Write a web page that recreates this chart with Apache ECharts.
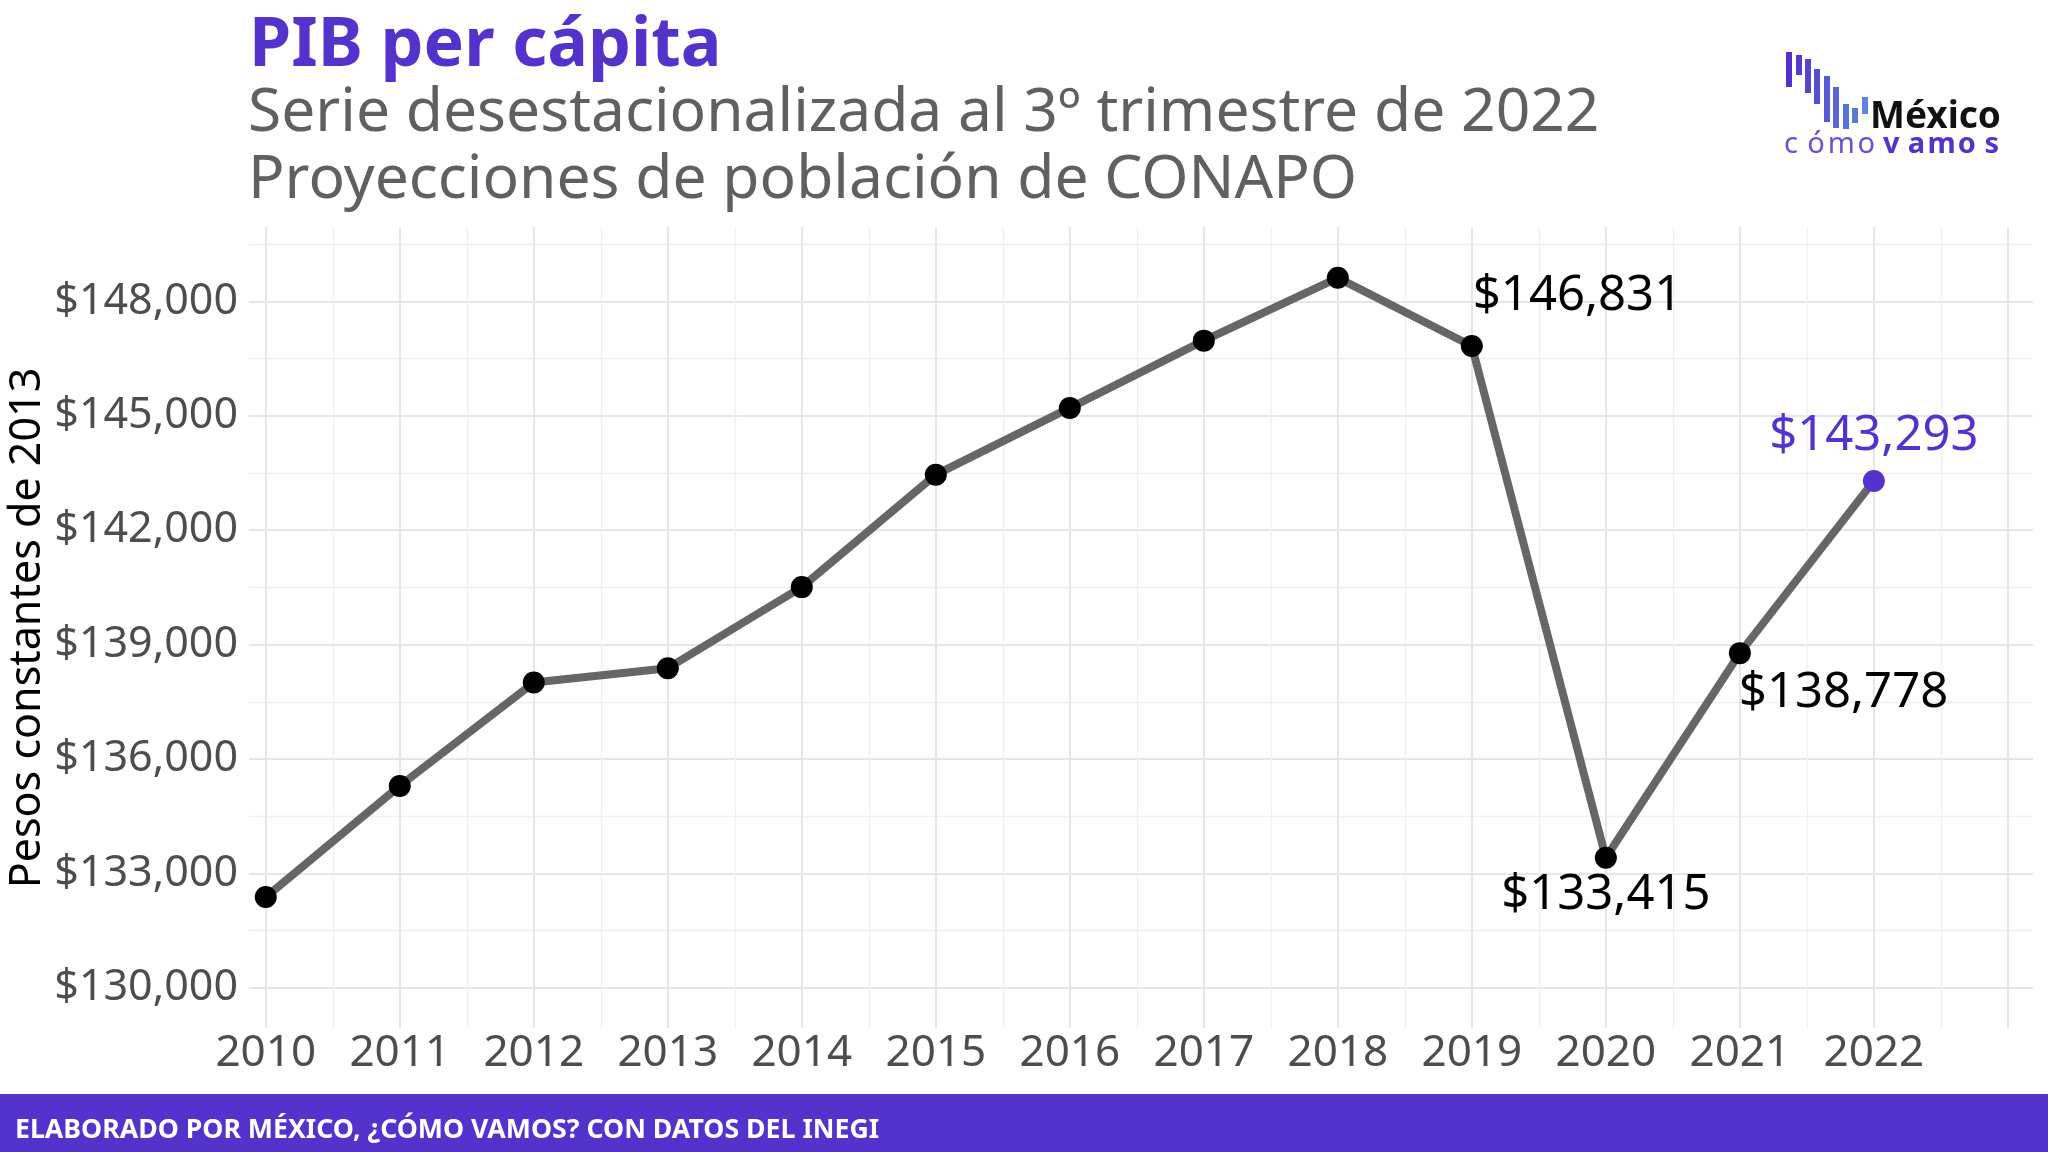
<!DOCTYPE html>
<html><head><meta charset="utf-8">
<script src="https://cdn.jsdelivr.net/npm/echarts@6/dist/echarts.min.js"></script>
<style>html,body{margin:0;padding:0;background:#fff}#c{width:2048px;height:1152px}</style>
</head><body><div id="c"></div>
<script>
// ---- data ----
const years = [2010, 2011, 2012, 2013, 2014, 2015, 2016, 2017, 2018, 2019, 2020, 2021, 2022];
const pibPerCapita = [132383, 135297, 138006, 138383, 140509, 143457, 145206, 146971, 148617, 146831, 133415, 138778, 143293];
const labeledYears = [2019, 2020, 2021, 2022];
const highlightYear = 2022;
const xTickYears = [2010, 2011, 2012, 2013, 2014, 2015, 2016, 2017, 2018, 2019, 2020, 2021, 2022];
const xGridYears = [2010, 2011, 2012, 2013, 2014, 2015, 2016, 2017, 2018, 2019, 2020, 2021, 2022, 2023];
const yTickValues = [130000, 133000, 136000, 139000, 142000, 145000, 148000];
const yMinorValues = [131500, 134500, 137500, 140500, 143500, 146500, 149500];
const titleText = 'PIB per cápita';
const subtitleLines = ['Serie desestacionalizada al 3º trimestre de 2022', 'Proyecciones de población de CONAPO'];
const yAxisTitle = 'Pesos constantes de 2013';
const footerText = 'ELABORADO POR MÉXICO, ¿CÓMO VAMOS? CON DATOS DEL INEGI';

// ---- style ----
const PURPLE = '#5433cc';
const MAJOR = '#e6e6e6', MINOR = '#f0f0f0';
const FONT = 'Noto Sans';
const X_MIN = 2009.875, X_MAX = 2023.1875, X_STEP = 0.0625;
const Y_MIN = 128950, Y_MAX = 149950, Y_STEP = 50;

function near(a, b) { return Math.abs(a - b) < 1e-6; }
function colorCycle(min, step, period, testFn) {
  const arr = [];
  for (let i = 0; i < period; i++) arr.push(testFn(min + step * i) ? 'X' : 'transparent');
  return arr;
}
// x: period of 1 year = 16 steps
const xMajorColors = colorCycle(X_MIN, X_STEP, 16, v => xGridYears.some(y => near(v, y))).map(c => c === 'X' ? MAJOR : c);
const xMinorColors = colorCycle(X_MIN, X_STEP, 16, v => xGridYears.some(y => near(v, y + 0.5))).map(c => c === 'X' ? MINOR : c);
// y: period of 3000 = 60 steps
const yMajorColors = colorCycle(Y_MIN, Y_STEP, 60, v => (((v - yTickValues[0]) % 3000) + 3000) % 3000 === 0).map(c => c === 'X' ? MAJOR : c);
const yMinorColors = colorCycle(Y_MIN, Y_STEP, 60, v => (((v - yMinorValues[0]) % 3000) + 3000) % 3000 === 0).map(c => c === 'X' ? MINOR : c);

const fmtMoney = v => '$' + Math.round(v).toLocaleString('en-US');

const labelPlacement = {
  2019: { align: 'left', offset: [1, -50] },
  2020: { align: 'center', offset: [0, 37] },
  2021: { align: 'left', offset: [-1, 40] },
  2022: { align: 'center', offset: [0, -45] }
};

const seriesData = years.map((yr, i) => {
  const item = { value: [yr, pibPerCapita[i]] };
  if (yr === highlightYear) item.itemStyle = { color: PURPLE };
  if (labeledYears.includes(yr)) {
    const p = labelPlacement[yr];
    item.label = {
      show: true, position: 'inside', align: p.align, verticalAlign: 'middle', offset: p.offset,
      formatter: fmtMoney(pibPerCapita[i]),
      fontFamily: FONT, fontSize: 49, color: yr === highlightYear ? PURPLE : '#000'
    };
  }
  return item;
});

const chart = echarts.init(document.getElementById('c'), null, { renderer: 'canvas', width: 2048, height: 1152 });

const gridBox = { left: 249, top: 227, width: 1784, height: 801, containLabel: false, outerBoundsMode: 'none' };

// logo bars (decoration)
const logoBars = [
  [1786, 52, 87], [1796, 55, 75], [1805, 59, 93], [1814, 69, 104], [1824, 76, 122],
  [1833, 87, 128], [1843, 104, 129], [1852, 108, 123], [1862, 97, 114]
];
function lerpColor(a, b, t) {
  const pa = [1, 3, 5].map(k => parseInt(a.substr(k, 2), 16));
  const pb = [1, 3, 5].map(k => parseInt(b.substr(k, 2), 16));
  return 'rgb(' + pa.map((c, i) => Math.round(c + (pb[i] - c) * t)).join(',') + ')';
}
const graphics = [];
logoBars.forEach((b, i) => {
  graphics.push({ type: 'rect', shape: { x: b[0], y: b[1], width: 6, height: b[2] - b[1] },
    style: { fill: lerpColor('#5230cc', '#5c86da', i / (logoBars.length - 1)) } });
});
graphics.push({ type: 'text', x: 1870, y: 117, style: { text: 'México', font: 'bold 37px "Noto Sans"', fill: '#111', textAlign: 'left', textVerticalAlign: 'middle' } });
const logoLetters = 'cómovamos'.split('');
logoLetters.forEach((ch, i) => {
  graphics.push({ type: 'text', x: 1791 + 25.1 * i, y: 145, style: {
    text: ch, font: (i >= 4 ? 'bold ' : '') + '29px "Noto Sans"', fill: i >= 4 ? PURPLE : '#6a50d8',
    textAlign: 'center', textVerticalAlign: 'middle' } });
});
// titles
graphics.push({ type: 'text', x: 249, y: 47, style: { text: titleText, font: 'bold 68px "Noto Sans"', fill: PURPLE, textAlign: 'left', textVerticalAlign: 'middle' } });
subtitleLines.forEach((t, i) => {
  graphics.push({ type: 'text', x: 248, y: 114 + 66.5 * i, style: { text: t, font: '60.5px "Noto Sans"', fill: '#606060', textAlign: 'left', textVerticalAlign: 'middle' } });
});
// y-axis title
graphics.push({ type: 'text', x: 28, y: 628, rotation: Math.PI / 2, style: { text: yAxisTitle, font: '43px "Noto Sans"', fill: '#000', textAlign: 'center', textVerticalAlign: 'middle' } });
// footer band
graphics.push({ type: 'rect', shape: { x: 0, y: 1094, width: 2048, height: 58 }, style: { fill: PURPLE } });
graphics.push({ type: 'text', x: 15, y: 1130, style: { text: footerText, font: 'bold 26.7px "Noto Sans"', fill: '#fff', textAlign: 'left', textVerticalAlign: 'middle' } });

const option = {
  backgroundColor: '#fff',
  animation: false,
  grid: gridBox,
  xAxis: [
    { type: 'value', min: X_MIN, max: X_MAX, interval: X_STEP,
      axisLine: { show: false }, axisTick: { show: false },
      axisLabel: { formatter: v => { const r = Math.round(v); return (near(v, r) && xTickYears.includes(r)) ? String(r) : ''; },
        fontFamily: FONT, fontSize: 44, color: '#4d4d4d', margin: 3 },
      splitLine: { show: true, lineStyle: { color: xMajorColors, width: 2 } } },
    { type: 'value', min: X_MIN, max: X_MAX, interval: X_STEP, position: 'bottom',
      axisLine: { show: false }, axisTick: { show: false }, axisLabel: { show: false },
      splitLine: { show: true, lineStyle: { color: xMinorColors, width: 1.3 } } }
  ],
  yAxis: [
    { type: 'value', min: Y_MIN, max: Y_MAX, interval: Y_STEP,
      axisLine: { show: false }, axisTick: { show: false },
      axisLabel: { formatter: v => yTickValues.includes(v) ? fmtMoney(v) : '', fontFamily: FONT, fontSize: 43, color: '#4d4d4d', margin: 11 },
      splitLine: { show: true, lineStyle: { color: yMajorColors, width: 2 } } },
    { type: 'value', min: Y_MIN, max: Y_MAX, interval: Y_STEP, position: 'left',
      axisLine: { show: false }, axisTick: { show: false }, axisLabel: { show: false },
      splitLine: { show: true, lineStyle: { color: yMinorColors, width: 1.3 } } }
  ],
  series: [{
    type: 'line', xAxisIndex: 0, yAxisIndex: 0,
    data: seriesData,
    symbol: 'circle', symbolSize: 22,
    itemStyle: { color: '#000' },
    lineStyle: { color: '#666666', width: 8 },
    label: { show: false },
    emphasis: { disabled: true },
    z: 5
  }],
  graphic: graphics
};
chart.setOption(option);
</script>
</body></html>
